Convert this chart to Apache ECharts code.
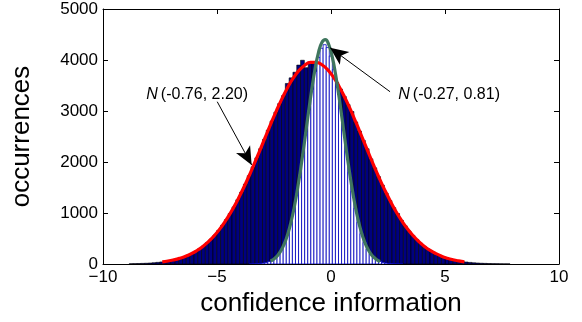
<!DOCTYPE html>
<html>
<head>
<meta charset="utf-8">
<script src="https://cdn.jsdelivr.net/npm/echarts@6/dist/echarts.min.js"></script>
<style>html,body{margin:0;padding:0;background:#fff;}#c{width:582px;height:322px;}</style>
</head>
<body>
<div id="c"></div>
<script>
// ---- data ----
const xTicks = [-10, -5, 0, 5, 10];
const yTicks = [0, 1000, 2000, 3000, 4000, 5000];

// wide histogram (100 bins)
const wideStart = -8.85;
const wideBinWidth = 0.167;
const wideCounts = [5,7,9,12,15,19,25,32,40,50,62,78,96,117,143,174,209,251,299,354,
  417,489,569,659,759,869,989,1119,1259,1408,1566,1731,1904,2081,2261,2443,2625,2804,2978,3145,
  3301,3540,3650,3760,3900,3995,3850,3960,3960,3947,3912,3855,3777,3679,3563,3431,3285,3127,2990,2785,
  2606,2424,2260,2061,1885,1713,1548,1391,1243,1104,990,857,748,649,560,481,410,348,294,246,
  205,170,140,115,94,76,61,49,39,31,24,19,15,12,9,7,6,4,3,3];

// narrow histogram (50 bins)
const narrowStart = -3.58;
const narrowBinWidth = 0.1348;
const narrowCounts = [2,3,5,10,17,29,47,77,122,187,280,407,577,793,1062,1383,1752,2159,2587,3017,
  3424,3776,4053,4231,4300,4244,4078,3811,3466,3064,2636,2206,1796,1423,1095,820,598,424,292,196,
  128,82,50,30,18,10,6,3,2,1];

// fitted curve N(-0.76, 2.20)
const redX = [-7.40,-7.15,-6.90,-6.65,-6.40,-6.15,-5.90,-5.65,-5.40,-5.15,-4.90,-4.65,-4.40,-4.15,-3.90,-3.65,-3.40,-3.15,-2.90,-2.65,
  -2.40,-2.15,-1.90,-1.65,-1.40,-1.15,-0.90,-0.65,-0.40,-0.15,0.10,0.35,0.60,0.85,1.10,1.35,1.60,1.85,2.10,2.35,
  2.60,2.85,3.10,3.35,3.60,3.85,4.10,4.35,4.60,4.85,5.10,5.35,5.60,5.85];
const redY = [42,58,81,110,148,197,259,335,428,541,674,830,1007,1208,1430,1671,1928,2195,2467,2738,
  2999,3243,3462,3649,3796,3898,3952,3955,3907,3811,3668,3487,3271,3030,2770,2500,2228,1959,1701,1458,
  1234,1030,850,691,556,441,345,267,204,153,114,84,61,43];

// fitted curve N(-0.27, 0.81)
const greenX = [-2.65,-2.50,-2.35,-2.20,-2.05,-1.90,-1.75,-1.60,-1.45,-1.30,-1.15,-1.00,-0.85,-0.70,-0.55,-0.40,-0.25,-0.10,
  0.05,0.20,0.35,0.50,0.65,0.80,0.95,1.10,1.25,1.40,1.55,1.70,1.85,2.00,2.15];
const greenY = [59,99,163,257,393,581,829,1143,1523,1960,2438,2931,3405,3822,4145,4344,4399,4304,
  4070,3718,3283,2801,2309,1839,1415,1052,756,525,352,228,143,87,51];

const label1 = {anchor: [-8.1, 3330], text: '(-0.76, 2.20)'};
const label2 = {anchor: [2.95, 3330], text: '(-0.27, 0.81)'};
const arrow1 = [[-4.99, 3182], [-3.48, 1941]];
const arrow2 = [[2.59, 3378], [-0.04, 4241]];

// ---- build ----
const wideData = wideCounts.map((v, i) => [wideStart + i * wideBinWidth, wideStart + (i + 1) * wideBinWidth, v]);
const narrowData = narrowCounts.map((v, i) => [narrowStart + i * narrowBinWidth, narrowStart + (i + 1) * narrowBinWidth, v]);
const redData = redX.map((x, i) => [x, redY[i]]);
const greenData = greenX.map((x, i) => [x, greenY[i]]);

function histRender(fill, stroke, lw) {
  return function (params, api) {
    const p0 = api.coord([api.value(0), api.value(2)]);
    const p1 = api.coord([api.value(1), 0]);
    return {
      type: 'rect',
      shape: {x: p0[0], y: p0[1], width: p1[0] - p0[0], height: p1[1] - p0[1]},
      style: {fill: fill, stroke: stroke, lineWidth: lw}
    };
  };
}

const FONT = 'Liberation Sans, Arial, Helvetica, sans-serif';
const axisCommon = {
  axisLine: {show: true, onZero: false, lineStyle: {color: '#000', width: 1}},
  axisTick: {show: true, inside: true, length: 5, lineStyle: {color: '#000'}},
  splitLine: {show: false}
};

const chart = echarts.init(document.getElementById('c'), null, {renderer: 'canvas'});
chart.setOption({
  animation: false,
  backgroundColor: '#fff',
  grid: {left: 103, right: 23, top: 9, bottom: 58},
  xAxis: [
    Object.assign({type: 'value', min: xTicks[0], max: xTicks[xTicks.length - 1], interval: 5, position: 'bottom',
      name: 'confidence information', nameLocation: 'middle', nameGap: 24,
      nameTextStyle: {fontFamily: FONT, fontSize: 26, color: '#000'},
      axisLabel: {fontFamily: FONT, fontSize: 17, color: '#000', margin: 5,
        formatter: v => String(v).replace('-', '\u2212')}}, axisCommon),
    Object.assign({type: 'value', min: xTicks[0], max: xTicks[xTicks.length - 1], interval: 5, position: 'top',
      axisLabel: {show: false}}, axisCommon)
  ],
  yAxis: [
    Object.assign({type: 'value', min: yTicks[0], max: yTicks[yTicks.length - 1], interval: 1000, position: 'left',
      name: 'occurrences', nameLocation: 'middle', nameGap: 68,
      nameTextStyle: {fontFamily: FONT, fontSize: 26, color: '#000'},
      axisLabel: {fontFamily: FONT, fontSize: 17, color: '#000', margin: 5, formatter: v => String(v)}}, axisCommon),
    Object.assign({type: 'value', min: yTicks[0], max: yTicks[yTicks.length - 1], interval: 1000, position: 'right',
      axisLabel: {show: false}}, axisCommon)
  ],
  series: [
    {type: 'custom', renderItem: histRender('#000080', '#000000', 0.6), data: wideData,
      encode: {x: [0, 1], y: 2}, z: 1, silent: true, clip: true},
    {type: 'custom', renderItem: histRender('#ffffff', '#0000c0', 0.8), data: narrowData,
      encode: {x: [0, 1], y: 2}, z: 2, silent: true, clip: true},
    {type: 'line', data: redData, smooth: true, symbol: 'none', z: 3, silent: true,
      lineStyle: {color: '#ff0000', width: 3.2},
      markLine: {silent: true, symbol: ['none', 'arrow'], symbolSize: [12, 18], label: {show: false},
        lineStyle: {color: '#000', width: 1, type: 'solid'},
        itemStyle: {color: '#000'},
        data: [[{coord: arrow1[0]}, {coord: arrow1[1]}], [{coord: arrow2[0]}, {coord: arrow2[1]}]]}},
    {type: 'line', data: greenData, smooth: true, symbol: 'none', z: 4, silent: true,
      lineStyle: {color: '#3f765e', width: 3.2}}
  ]
});

const p1 = chart.convertToPixel({gridIndex: 0}, label1.anchor);
const p2 = chart.convertToPixel({gridIndex: 0}, label2.anchor);
const rich = {i: {fontStyle: 'italic', fontFamily: FONT, fontSize: 16, padding: [0, 3, 0, 0]}};
chart.setOption({
  graphic: [
    {type: 'text', x: p1[0], y: p1[1], z: 10, style: {text: '{i|N}' + label1.text, rich: rich,
      fontFamily: FONT, fontSize: 16, fill: '#000', verticalAlign: 'middle', align: 'left'}},
    {type: 'text', x: p2[0], y: p2[1], z: 10, style: {text: '{i|N}' + label2.text, rich: rich,
      fontFamily: FONT, fontSize: 16, fill: '#000', verticalAlign: 'middle', align: 'left'}}
  ]
});
</script>
</body>
</html>
